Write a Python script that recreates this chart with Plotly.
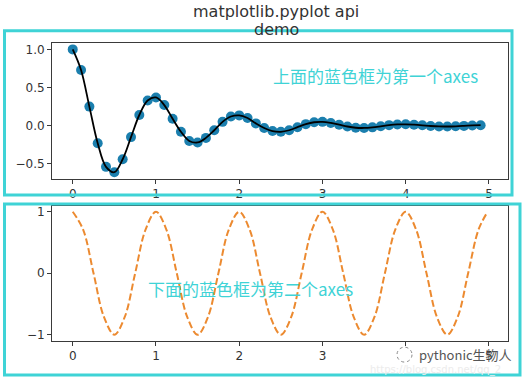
import plotly.graph_objects as go

# ---- data ----
t_dots = [0.0, 0.1, 0.2, 0.3, 0.4, 0.5, 0.6, 0.7, 0.8, 0.9,
          1.0, 1.1, 1.2, 1.3, 1.4, 1.5, 1.6, 1.7, 1.8, 1.9,
          2.0, 2.1, 2.2, 2.3, 2.4, 2.5, 2.6, 2.7, 2.8, 2.9,
          3.0, 3.1, 3.2, 3.3, 3.4, 3.5, 3.6, 3.7, 3.8, 3.9,
          4.0, 4.1, 4.2, 4.3, 4.4, 4.5, 4.6, 4.7, 4.8, 4.9]
y_dots = [1.00, 0.73, 0.25, -0.23, -0.54, -0.61, -0.44, -0.15, 0.14, 0.33,
          0.37, 0.27, 0.09, -0.08, -0.20, -0.22, -0.16, -0.06, 0.05, 0.12,
          0.135, 0.10, 0.03, -0.03, -0.07, -0.08, -0.06, -0.02, 0.02, 0.045,
          0.05, 0.036, 0.013, -0.011, -0.027, -0.03, -0.022, -0.008, 0.007, 0.016,
          0.018, 0.013, 0.005, -0.004, -0.010, -0.011, -0.008, -0.003, 0.003, 0.006]

t_line = [0.0, 0.125, 0.25, 0.375, 0.5, 0.625, 0.75, 0.875,
          1.0, 1.125, 1.25, 1.375, 1.5, 1.625, 1.75, 1.875,
          2.0, 2.125, 2.25, 2.375, 2.5, 2.625, 2.75, 2.875,
          3.0, 3.125, 3.25, 3.375, 3.5, 3.625, 3.75, 3.875,
          4.0, 4.125, 4.25, 4.375, 4.5, 4.625, 4.75, 4.875, 4.98]
y_cos = [1, 0.71, 0, -0.71, -1, -0.71, 0, 0.71,
         1, 0.71, 0, -0.71, -1, -0.71, 0, 0.71,
         1, 0.71, 0, -0.71, -1, -0.71, 0, 0.71,
         1, 0.71, 0, -0.71, -1, -0.71, 0, 0.71,
         1, 0.71, 0, -0.71, -1, -0.71, 0, 0.71, 0.99]

x_ticks = [0, 1, 2, 3, 4, 5]
x_ticklabels = ["0", "1", "2", "3", "4", "5"]
y1_ticks = [1.0, 0.5, 0.0, -0.5]
y1_ticklabels = ["1.0", "0.5", "0.0", "\u22120.5"]
y2_ticks = [1, 0, -1]
y2_ticklabels = ["1", "0", "\u22121"]

title_lines = ["matplotlib.pyplot api", "demo"]
note_top = "上面的蓝色框为第一个axes"
note_bottom = "下面的蓝色框为第二个axes"
watermark = "pythonic生物人"
faint_url = "https://blog.csdn.net/qq_2"

# ---- figure ----
W, H = 527, 380
CYAN = "#3fd3d6"
AX = "#3a3a3a"
TXT = "#333333"

def px(x):
    return x / W

def py(y):
    return 1 - y / H

fig = go.Figure()
fig.add_trace(go.Scatter(x=t_dots, y=y_dots, mode="markers",
                         marker=dict(color="#1b7fae", size=10, line=dict(width=0)),
                         xaxis="x", yaxis="y", showlegend=False, hoverinfo="skip"))
fig.add_trace(go.Scatter(x=t_dots, y=y_dots, mode="lines",
                         line=dict(color="black", width=1.8, shape="spline", smoothing=1.0),
                         xaxis="x", yaxis="y", showlegend=False, hoverinfo="skip"))
fig.add_trace(go.Scatter(x=t_line, y=y_cos, mode="lines",
                         line=dict(color="#ec8a30", width=2, dash="7px,3px",
                                   shape="spline", smoothing=1.0),
                         xaxis="x2", yaxis="y2", showlegend=False, hoverinfo="skip"))

axis_common = dict(showline=True, mirror=True, linecolor=AX, linewidth=1,
                   ticks="outside", ticklen=4, tickcolor=AX, tickwidth=1,
                   showgrid=False, zeroline=False,
                   tickfont=dict(family="DejaVu Sans", size=12, color=TXT))

xdom = [px(52), px(508)]
fig.update_layout(
    width=W, height=H,
    margin=dict(l=0, r=0, t=0, b=0),
    paper_bgcolor="white", plot_bgcolor="white",
    xaxis=dict(domain=xdom, range=[-0.249, 5.229], anchor="y",
               tickvals=x_ticks, ticktext=x_ticklabels, **axis_common),
    yaxis=dict(domain=[py(179), py(42)], range=[-0.70, 1.087], anchor="x",
               tickvals=y1_ticks, ticktext=y1_ticklabels, **axis_common),
    xaxis2=dict(domain=xdom, range=[-0.249, 5.229], anchor="y2",
                tickvals=x_ticks, ticktext=x_ticklabels, **axis_common),
    yaxis2=dict(domain=[py(341.7), py(205.7)], range=[-1.1, 1.1], anchor="x2",
                tickvals=y2_ticks, ticktext=y2_ticklabels, **axis_common),
)

annotations = [
    dict(text=title_lines[0], x=px(276), y=py(11), font=dict(size=16, color=TXT, family="DejaVu Sans")),
    dict(text=title_lines[1], x=px(276), y=py(29), font=dict(size=16, color=TXT, family="DejaVu Sans")),
    dict(text=note_top, x=px(375), y=py(75), font=dict(size=17, color=CYAN, family="Noto Sans CJK SC")),
    dict(text=note_bottom, x=px(250), y=py(289), font=dict(size=17, color=CYAN, family="Noto Sans CJK SC")),
    dict(text=faint_url, x=px(435), y=py(371),
         font=dict(size=10, color="#ececec", family="DejaVu Sans")),
    dict(text=watermark, x=px(465), y=py(355), font=dict(size=13, color="#555555", family="Noto Sans CJK SC")),
]
for a in annotations:
    a.update(xref="paper", yref="paper", showarrow=False, xanchor="center", yanchor="middle")
fig.update_layout(annotations=annotations)

shapes = [
    dict(type="rect", x0=px(4.5), x1=px(512), y0=py(195), y1=py(30),
         line=dict(color=CYAN, width=3)),
    dict(type="rect", x0=px(4.5), x1=px(520), y0=py(376), y1=py(204),
         line=dict(color=CYAN, width=3)),
    dict(type="circle", x0=px(397), x1=px(412), y0=py(363), y1=py(348),
         fillcolor="white", line=dict(color="#888888", width=1, dash="dot")),
]
for s in shapes:
    s.update(xref="paper", yref="paper", layer="above")
fig.update_layout(shapes=shapes)

fig.write_html("out.html", config={"displayModeBar": False},
               post_script="document.body.style.margin='0';document.body.style.overflow='hidden';")
